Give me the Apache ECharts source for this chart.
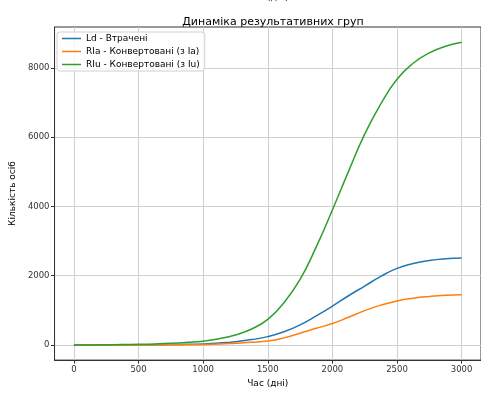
<!DOCTYPE html>
<html>
<head>
<meta charset="utf-8">
<script src="https://cdn.jsdelivr.net/npm/echarts@6/dist/echarts.min.js"></script>
<style>
html,body{margin:0;padding:0;background:#fff;}
#chart{width:481px;height:393px;}
</style>
</head>
<body>
<div id="chart"></div>
<script>
const days = [0,125,250,375,500,625,750,875,1000,1125,1250,1375,1500,1625,1750,1875,2000,2125,2250,2375,2500,2625,2750,2875,3000];
const ld  = [0,1,2,3,5,8,12,19,30,55,95,155,240,380,580,840,1120,1420,1700,1980,2210,2350,2440,2490,2510];
const rla = [0,0,1,1,2,3,5,8,12,25,50,78,115,205,337,480,620,800,990,1150,1270,1350,1400,1435,1452];
const rlu = [0,2,5,10,18,30,48,75,110,180,290,460,740,1220,1890,2830,3896,5010,6085,6960,7668,8130,8430,8620,8735];
const xTicks = [0,500,1000,1500,2000,2500,3000];
const yTicks = [0,2000,4000,6000,8000];
const names = ['Ld - Втрачені','RIa - Конвертовані (з Ia)','RIu - Конвертовані (з Iu)'];
const colors = ['#1f77b4','#ff7f0e','#2ca02c'];

const font = 'DejaVu Sans';
const chart = echarts.init(document.getElementById('chart'), null, {renderer:'canvas'});
const pair = arr => days.map((d,i)=>[d,arr[i]]);
const mk = (name, arr, c) => ({
  name, type:'line', data: pair(arr), symbol:'none', smooth:0.5,
  lineStyle:{color:c,width:1.5}, itemStyle:{color:c}, animation:false
});
chart.setOption({
  animation:false,
  backgroundColor:'#fff',
  title:{text:'Динаміка результативних груп', left:268, textAlign:'center', top:12,
    textStyle:{fontFamily:font,fontSize:11,fontWeight:'normal',color:'#000'}},
  graphic:[{type:'text', x:268, y:-7, style:{text:'Час (дні)', textAlign:'center', textVerticalAlign:'top', fontFamily:font, fontSize:9, fill:'#000'}}],
  legend:{orient:'vertical', left:57, top:32, padding:[2,5,2,5], itemGap:4, itemWidth:19, itemHeight:1.5, icon:'rect',
    backgroundColor:'rgba(255,255,255,0.8)', borderColor:'#d0d0d0', borderWidth:1, borderRadius:3,
    textStyle:{fontFamily:font,fontSize:9,color:'#000'}, data:names},
  grid:{left:54, right:-2, top:27, bottom:32.5, show:true, borderColor:'#333', borderWidth:1},
  xAxis:{type:'value', min:-150, max:3150, name:'Час (дні)', nameLocation:'middle', nameGap:17,
    nameTextStyle:{fontFamily:font,fontSize:9,color:'#000'},
    axisLine:{show:true,onZero:false,lineStyle:{color:'#333'}},
    axisTick:{show:true,length:3.5,customValues:xTicks,lineStyle:{color:'#333'}},
    axisLabel:{customValues:xTicks,formatter:v=>String(v),fontFamily:font,fontSize:8.5,color:'#333',margin:5},
    splitLine:{show:true,lineStyle:{color:'#d0d0d0',width:1}}},
  yAxis:{type:'value', min:-437, max:9177, name:'Кількість осіб', nameLocation:'middle', nameGap:33,
    nameTextStyle:{fontFamily:font,fontSize:9,color:'#000'},
    axisLine:{show:true,onZero:false,lineStyle:{color:'#333'}},
    axisTick:{show:true,length:3.5,customValues:yTicks,lineStyle:{color:'#333'}},
    axisLabel:{customValues:yTicks,formatter:v=>String(v),fontFamily:font,fontSize:8.5,color:'#333',margin:5},
    splitLine:{show:true,lineStyle:{color:'#d0d0d0',width:1}}},
  series:[mk(names[0],ld,colors[0]), mk(names[1],rla,colors[1]), mk(names[2],rlu,colors[2])]
});
</script>
</body>
</html>
